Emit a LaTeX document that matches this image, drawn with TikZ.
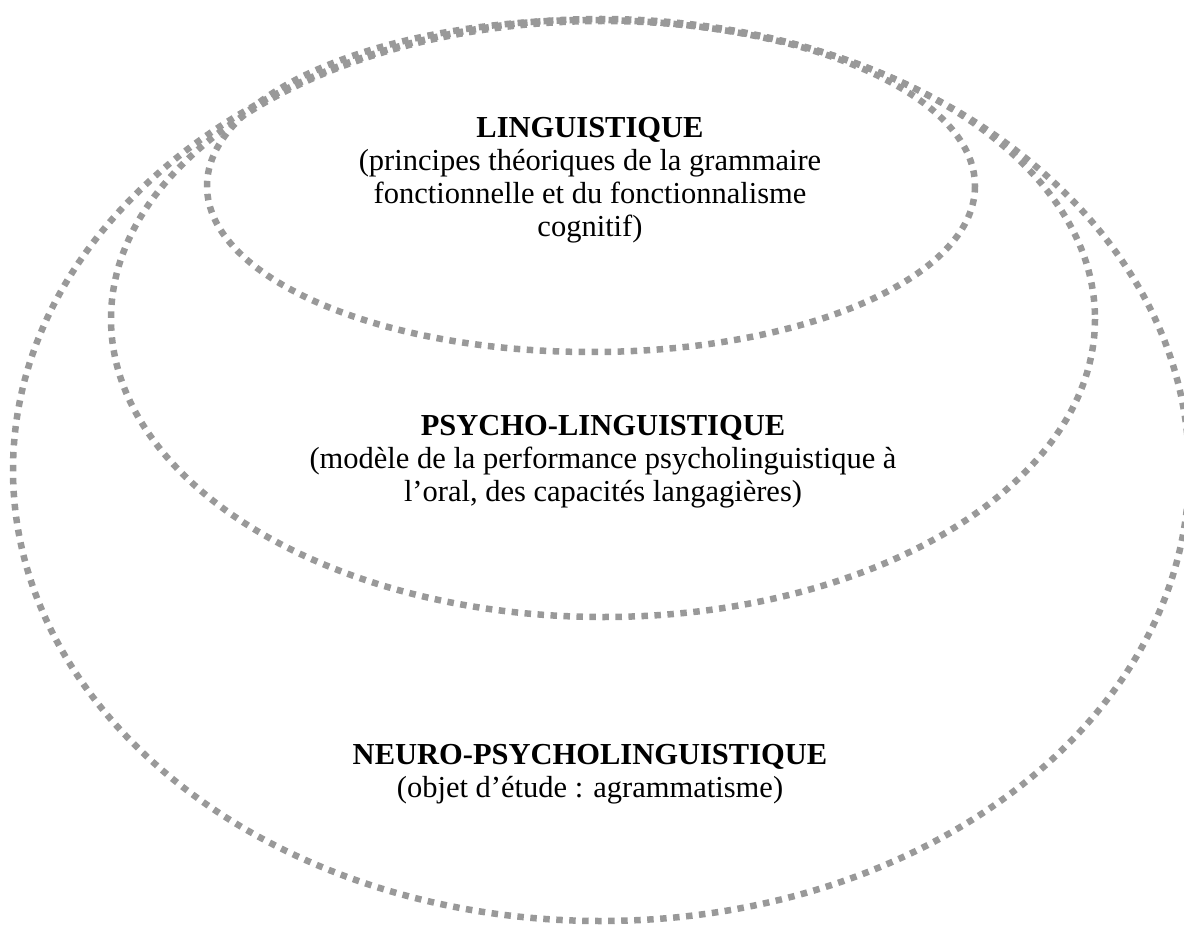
\documentclass[tikz,border=0pt]{standalone}
\usepackage{fontspec}
\setmainfont{Liberation Serif}
\usepackage{tikz}

\tikzset{
	zone/.style={draw=gray!80, line width=6.5pt, dash pattern=on 6.5pt off 6.5pt},
	zonetext/.style={align=center, font=\fontsize{30.5}{33}\selectfont}
}

\begin{document}
\begin{tikzpicture}[x=1pt, y=-1pt]
	\useasboundingbox (0,0) rectangle (1184,931);

	% Draw ellipses
	\draw[zone] (601,470) ellipse [x radius=588, y radius=451];
	\draw[zone] (603,319) ellipse [x radius=492, y radius=298];
	\draw[zone] (591,186) ellipse [x radius=384, y radius=166];

	% Texts
	\node[zonetext] (ling) at (590,180) {\textbf{LINGUISTIQUE}\\(principes théoriques de la grammaire\\fonctionnelle et du fonctionnalisme\\cognitif)};
	\node[zonetext] (psy) at (603,462) {\textbf{PSYCHO-LINGUISTIQUE}\\(modèle de la performance psycholinguistique à\\l’oral, des capacités langagières)};
	\node[zonetext] (neuro) at (590,774) {\textbf{NEURO-PSYCHOLINGUISTIQUE}\\(objet d’étude : agrammatisme)};

\end{tikzpicture}
\end{document}
